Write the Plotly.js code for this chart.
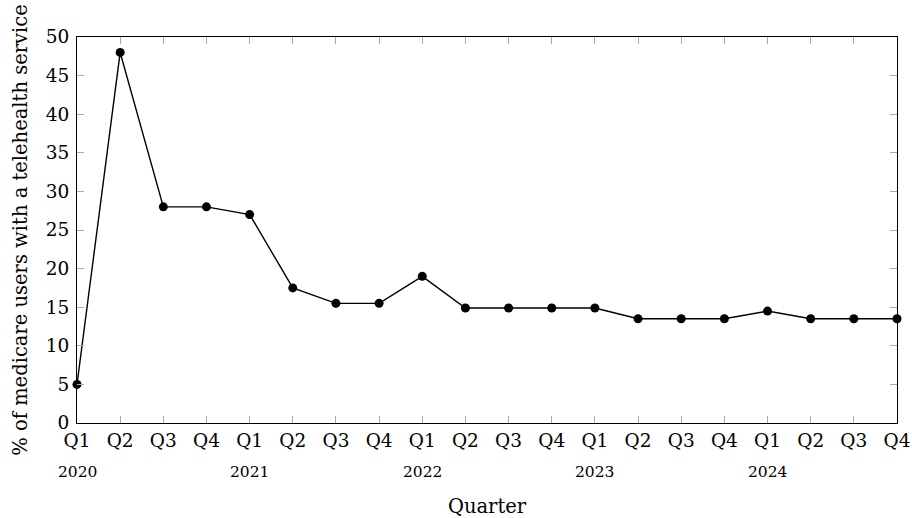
<!DOCTYPE html>
<html><head><meta charset="utf-8">
<script src="https://cdn.plot.ly/plotly-3.0.1.min.js"></script>
<style>body{margin:0;background:#fff}#c{width:912px;height:518px}</style>
</head><body><div id="c"></div>
<script>
const quarters = ["Q1","Q2","Q3","Q4","Q1","Q2","Q3","Q4","Q1","Q2","Q3","Q4","Q1","Q2","Q3","Q4","Q1","Q2","Q3","Q4"];
const years = ["2020","2021","2022","2023","2024"];
const yearIndex = [0,4,8,12,16];
const values = [5,48,28,28,27,17.5,15.5,15.5,19,14.9,14.9,14.9,14.9,13.5,13.5,13.5,14.5,13.5,13.5,13.5];
const idx = quarters.map((q,i)=>i);
const F = "DejaVu Serif, serif";
const trace = {x: idx, y: values, mode: "lines+markers", type: "scatter",
  line: {color: "#000", width: 1.4}, marker: {color: "#000", size: 9}, cliponaxis: false, hoverinfo: "none"};
const annotations = years.map((y,i)=>({x: yearIndex[i], y: 0, xref: "x", yref: "paper", yshift: -49,
  text: y, showarrow: false, font: {family: F, size: 15.5, color: "#000"}, xanchor: "center", yanchor: "middle"}));
const layout = {
  width: 912, height: 518, margin: {l: 77, r: 15, t: 37, b: 95},
  paper_bgcolor: "#fff", plot_bgcolor: "#fff", showlegend: false,
  font: {family: F, size: 18, color: "#000"},
  xaxis: {range: [0,19], tickvals: idx, ticktext: quarters, showgrid: false, zeroline: false,
    showline: true, linecolor: "#000", linewidth: 1, mirror: "allticks", ticks: "inside", ticklen: 7,
    tickcolor: "#aaa", tickwidth: 1, tickfont: {family: F, size: 18.5}, ticklabelstandoff: 1,
    title: {text: "Quarter", font: {family: F, size: 19.5}, standoff: 50}},
  yaxis: {range: [0,50], tickvals: [0,5,10,15,20,25,30,35,40,45,50], showgrid: false, zeroline: false,
    showline: true, linecolor: "#000", linewidth: 1, mirror: "allticks", ticks: "inside", ticklen: 7,
    tickcolor: "#aaa", tickwidth: 1, tickfont: {family: F, size: 18.5}, ticklabelstandoff: 3,
    title: {text: "% of medicare users with a telehealth service", font: {family: F, size: 19.5}, standoff: 12}},
  annotations: annotations
};
Plotly.newPlot("c", [trace], layout, {staticPlot: true, displayModeBar: false});
</script></body></html>
